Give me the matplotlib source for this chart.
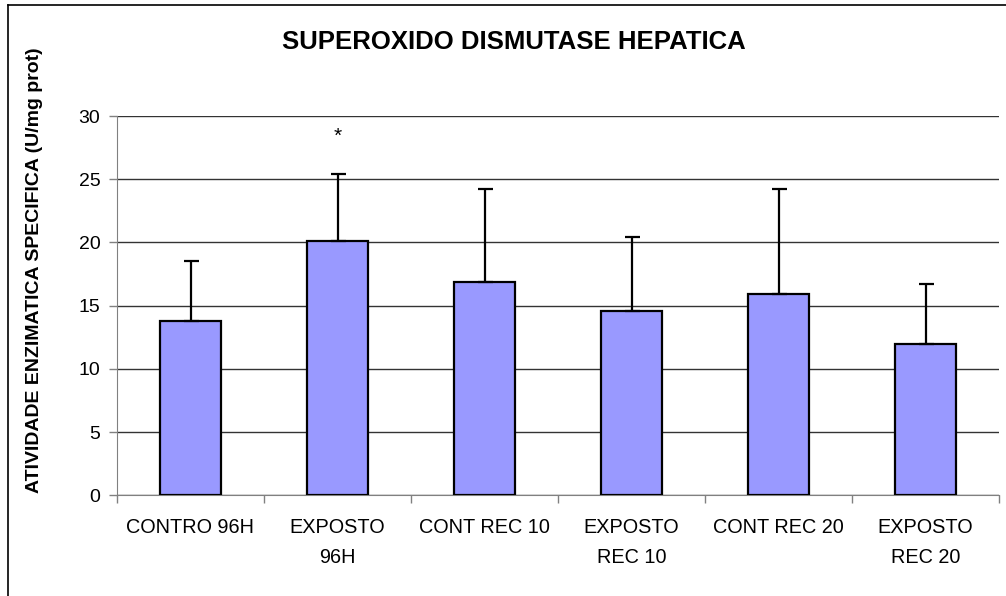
import numpy as np
import matplotlib
matplotlib.use('Agg')
import matplotlib.pyplot as plt
from matplotlib.lines import Line2D

plt.rcParams['font.family'] = ['Liberation Sans', 'DejaVu Sans']

# data
groups = ['CONTRO 96H', 'EXPOSTO\n96H', 'CONT REC 10', 'EXPOSTO\nREC 10', 'CONT REC 20', 'EXPOSTO\nREC 20']
means = [13.8, 20.1, 16.9, 14.6, 15.95, 12.0]
errors = [4.7, 5.35, 7.3, 5.8, 8.25, 4.7]
star_group = 1
star_y = 28.4

fig = plt.figure(figsize=(10.06, 5.96), dpi=100)
ax = fig.add_axes([117/1006, 1 - 495.3/596, (999 - 117)/1006, (495.3 - 116)/596])

x = np.arange(len(groups))
ax.bar(x, means, width=0.41, color='#9999FF', edgecolor='black', linewidth=1.6, zorder=3)
ax.errorbar(x, means, yerr=[np.zeros(len(errors)), errors], fmt='none', ecolor='black',
            elinewidth=1.6, capsize=5.4, capthick=1.6, zorder=4)
ax.text(x[star_group], star_y, '*', ha='center', va='center', fontsize=15)

ax.set_xlim(-0.5, len(groups) - 0.5)
ax.set_ylim(0, 30)
ax.set_yticks(range(0, 31, 5))
ax.yaxis.grid(True, color='#333333', linewidth=1.0, zorder=0)
ax.set_axisbelow(True)

# category boundary ticks, labels centred between them
ax.set_xticks(np.arange(-0.5, len(groups)))
ax.set_xticklabels([])
ax.set_xticks(x, minor=True)
ax.set_xticklabels(groups, minor=True, fontsize=14.3, linespacing=1.75)
ax.tick_params(axis='x', which='major', direction='out', length=6, color='#808080', width=1)
ax.tick_params(axis='x', which='minor', length=0, pad=16.5)
ax.tick_params(axis='y', direction='out', length=6, color='#808080', width=1, labelsize=14, pad=6)

for side in ['top', 'right']:
    ax.spines[side].set_visible(False)
ax.spines['left'].set_color('#808080')
ax.spines['bottom'].set_color('#808080')

fig.text(35/1006, 1 - 270/596, 'ATIVIDADE ENZIMATICA SPECIFICA (U/mg prot)', rotation=90,
         ha='center', va='center', fontsize=14, fontweight='bold')

fig.text(514/1006, 1 - 42/596, 'SUPEROXIDO DISMUTASE HEPATICA', ha='center', va='center',
         fontsize=18.5, fontweight='bold')

# outer chart frame
fig.add_artist(Line2D([8/1006, 8/1006], [0, 1 - 5/596], transform=fig.transFigure, color='black', linewidth=1.2))
fig.add_artist(Line2D([8/1006, 1], [1 - 5/596, 1 - 5/596], transform=fig.transFigure, color='black', linewidth=1.2))

fig.savefig('out.png', dpi=100)
